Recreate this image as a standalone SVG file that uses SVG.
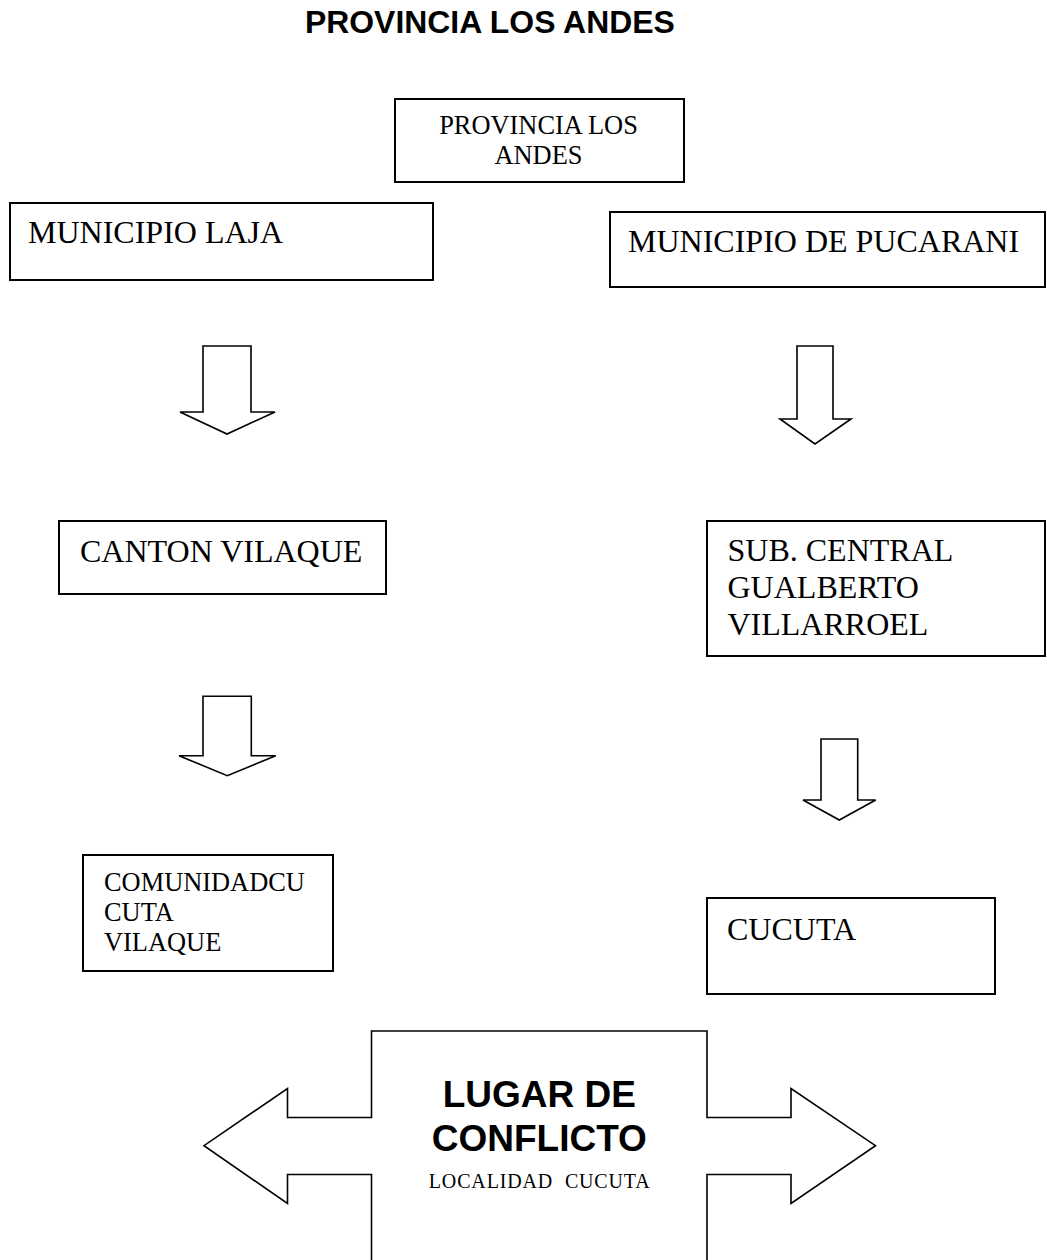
<svg xmlns="http://www.w3.org/2000/svg" width="1047" height="1260" viewBox="0 0 1047 1260">
  <style>
    .box { fill: #ffffff; stroke: #000000; stroke-width: 2; }
    .arrow { fill: #ffffff; stroke: #000000; stroke-width: 1.6; stroke-linejoin: miter; }
    .serif { font-family: "Liberation Serif", "Times New Roman", serif; fill: #000000; }
    .sans { font-family: "Liberation Sans", Arial, sans-serif; font-weight: bold; fill: #000000; }
    .big { font-size: 32px; }
    .med { font-size: 32px; }
    .small { font-size: 26.4px; }
  </style>
  <rect x="0" y="0" width="1047" height="1260" fill="#ffffff"/>

  <g id="title">
    <text class="sans" x="305" y="33" font-size="31.9">PROVINCIA LOS ANDES</text>
  </g>

  <g id="node-provincia">
    <rect class="box" x="395" y="99" width="289" height="83"/>
    <text class="serif small" x="538.5" y="134" text-anchor="middle">PROVINCIA LOS</text>
    <text class="serif small" x="538.5" y="164" text-anchor="middle">ANDES</text>
  </g>

  <g id="node-laja">
    <rect class="box" x="10" y="203" width="423" height="77"/>
    <text class="serif big" x="28" y="243">MUNICIPIO LAJA</text>
  </g>

  <g id="node-pucarani">
    <rect class="box" x="610" y="212" width="435" height="75"/>
    <text class="serif big" x="628" y="252">MUNICIPIO DE PUCARANI</text>
  </g>

  <g id="node-canton">
    <rect class="box" x="59" y="521" width="327" height="73"/>
    <text class="serif med" x="80" y="561.5">CANTON VILAQUE</text>
  </g>

  <g id="node-subcentral">
    <rect class="box" x="707" y="521" width="338" height="135"/>
    <text class="serif med" x="727.5" y="560.5">SUB. CENTRAL</text>
    <text class="serif med" x="727.5" y="597.5">GUALBERTO</text>
    <text class="serif med" x="727.5" y="635">VILLARROEL</text>
  </g>

  <g id="node-comunidad">
    <rect class="box" x="83" y="855" width="250" height="116"/>
    <text class="serif small" x="104" y="890.5">COMUNIDADCU</text>
    <text class="serif small" x="104" y="921">CUTA</text>
    <text class="serif small" x="104" y="951">VILAQUE</text>
  </g>

  <g id="node-cucuta">
    <rect class="box" x="707" y="898" width="288" height="96"/>
    <text class="serif med" x="727" y="939.5">CUCUTA</text>
  </g>

  <g id="node-conflicto">
    <polygon class="arrow" points="371.5,1031 707,1031 707,1117.5 791,1117.5 791,1088.5 875.5,1145.7 791,1203.5 791,1174.5 707,1174.5 707,1263 371.5,1263 371.5,1174.5 287.5,1174.5 287.5,1203.5 204,1145.7 287.5,1088.5 287.5,1117.5 371.5,1117.5"/>
    <text class="sans" x="539.3" y="1106.7" font-size="37" text-anchor="middle">LUGAR DE</text>
    <text class="sans" x="539.3" y="1150.7" font-size="37" text-anchor="middle">CONFLICTO</text>
    <text class="serif" x="539.3" y="1188.3" font-size="20" text-anchor="middle" xml:space="preserve" textLength="221" lengthAdjust="spacing">LOCALIDAD  CUCUTA</text>
  </g>

  <g id="connectors">
    <polygon class="arrow" points="203,346 251,346 251,412 275,412 227,434 180,412 203,412"/>
    <polygon class="arrow" points="797,346 833,346 833,419 851,419 815,444 780,419 797,419"/>
    <polygon class="arrow" points="203,696.3 251.3,696.3 251.3,755.7 275.7,755.7 227.3,775.7 179,755.7 203,755.7"/>
    <polygon class="arrow" points="821,739 857.7,739 857.7,800 875.7,800 839.3,820 803,800 821,800"/>
  </g>
</svg>
